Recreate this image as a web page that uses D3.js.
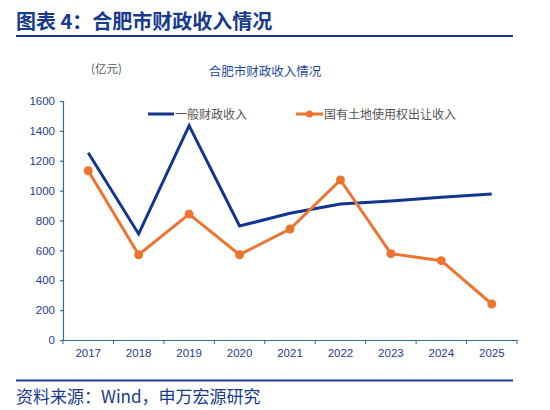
<!DOCTYPE html>
<html><head><meta charset="utf-8">
<script src="https://cdn.jsdelivr.net/npm/d3@7"></script>
<style>body{margin:0;background:#fff}svg{display:block}</style>
</head><body>
<svg id="c" width="550" height="410"></svg>
<script>
const years = ["2017","2018","2019","2020","2021","2022","2023","2024","2025"];
const generalRevenue = [1254, 710, 1435, 763, 848, 910, 931, 955, 977];
const landRevenue = [1133, 571, 843, 571, 743, 1071, 578, 531, 241];
const yTicks = [0,200,400,600,800,1000,1200,1400,1600];
const seriesNames = ["一般财政收入","国有土地使用权出让收入"];

const svg = d3.select("#c");
const font = "'Noto Sans CJK SC', 'Liberation Sans', Arial, sans-serif";
const navy = "#12358f", orange = "#ed7430", axisCol = "#2f6c8f", labelCol = "#1f3c93";

// Title
svg.append("text").attr("x",16).attr("y",29).attr("font-family",font).attr("font-weight","bold")
  .attr("font-size",20).attr("fill","#173a8f").text("图表 4：合肥市财政收入情况");
svg.append("line").attr("x1",16).attr("x2",513).attr("y1",36).attr("y2",36).attr("stroke","#1c3a94").attr("stroke-width",2);

svg.append("text").attr("x",91).attr("y",73).attr("font-family",font).attr("font-size",11.5).attr("fill","#555").text("(亿元)");
svg.append("text").attr("x",265).attr("y",76).attr("text-anchor","middle").attr("font-family",font).attr("font-size",12.5)
  .attr("fill","#1f4aa0").text("合肥市财政收入情况");

const x = d3.scaleBand().domain(years).range([63,517]);
const y = d3.scaleLinear().domain([0,1600]).range([340,101]);

const yAxis = svg.append("g").attr("transform","translate(63,0)")
  .call(d3.axisLeft(y).tickValues(yTicks).tickFormat(d3.format("d")).tickSize(3).tickPadding(5));
const xAxis = svg.append("g").attr("transform","translate(0,340)")
  .call(d3.axisBottom(x).tickSize(0).tickPadding(9));
// boundary ticks for band axis
xAxis.selectAll(".bt").data(d3.range(years.length+1)).enter().append("line")
  .attr("x1",i=>63+i*x.step()).attr("x2",i=>63+i*x.step()).attr("y1",0).attr("y2",4).attr("stroke",axisCol);
[yAxis,xAxis].forEach(a=>{
  a.selectAll("path.domain,.tick line").attr("stroke",axisCol).attr("stroke-width",1.2);
  a.selectAll("text").attr("font-family","'Liberation Sans', Arial, sans-serif").attr("font-size",11.5).attr("fill",labelCol);
});

const cx = d => x(d) + x.bandwidth()/2;
const line = d3.line().x((d,i)=>cx(years[i])).y(d=>y(d));

svg.append("path").datum(generalRevenue).attr("d",line).attr("fill","none").attr("stroke",navy).attr("stroke-width",3);
svg.append("path").datum(landRevenue).attr("d",line).attr("fill","none").attr("stroke",orange).attr("stroke-width",3);
svg.selectAll(".dot").data(landRevenue).enter().append("circle").attr("cx",(d,i)=>cx(years[i])).attr("cy",d=>y(d))
  .attr("r",4.5).attr("fill",orange);

// Legend
const lg = svg.append("g");
lg.append("line").attr("x1",148).attr("x2",174).attr("y1",114).attr("y2",114).attr("stroke",navy).attr("stroke-width",3);
lg.append("text").attr("x",175).attr("y",118.5).attr("font-family",font).attr("font-size",12).attr("fill","#555").text(seriesNames[0]);
lg.append("line").attr("x1",296).attr("x2",323).attr("y1",114).attr("y2",114).attr("stroke",orange).attr("stroke-width",3);
lg.append("circle").attr("cx",309.5).attr("cy",114).attr("r",3.5).attr("fill",orange);
lg.append("text").attr("x",324).attr("y",118.5).attr("font-family",font).attr("font-size",12).attr("fill","#555").text(seriesNames[1]);

// Footer
svg.append("line").attr("x1",16).attr("x2",513).attr("y1",380.5).attr("y2",380.5).attr("stroke","#1c3a94").attr("stroke-width",2);
svg.append("text").attr("x",16).attr("y",403).attr("font-family",font).attr("font-size",17).attr("fill","#173a8f")
  .text("资料来源：Wind，申万宏源研究");
</script>
</body></html>
